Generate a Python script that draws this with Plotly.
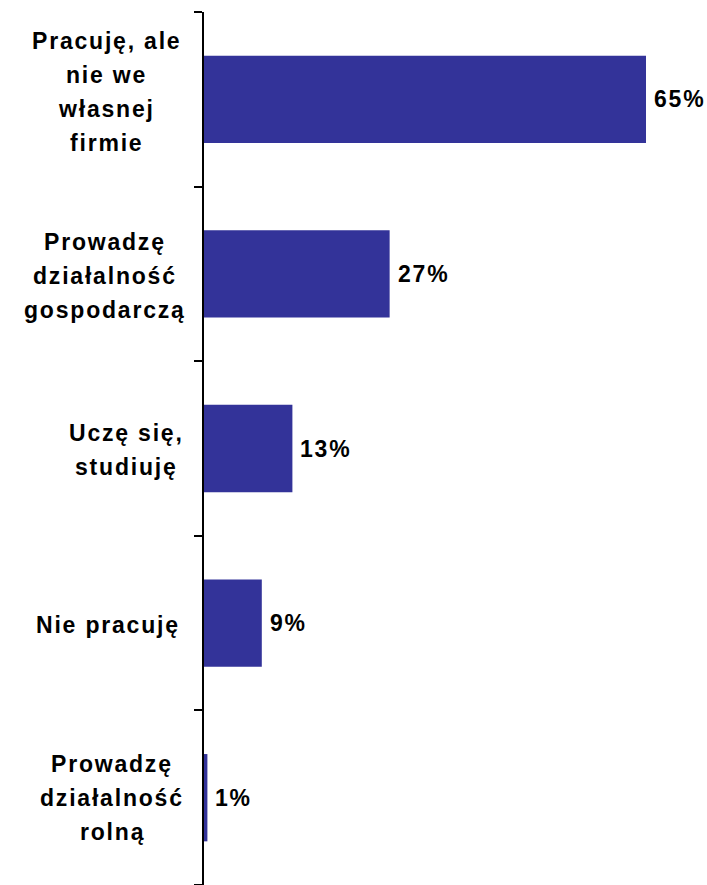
import plotly.graph_objects as go

# ---- data ----
category_lines = [
    ["Pracuję, ale", "nie we", "własnej", "firmie"],
    ["Prowadzę", "działalność", "gospodarczą"],
    ["Uczę się,", "studiuję"],
    ["Nie pracuję"],
    ["Prowadzę", "działalność", "rolną"],
]
values = [65, 27.3, 13, 8.5, 0.5]          # bar lengths
value_labels = ["65%", "27%", "13%", "9%", "1%"]

# ---- style / layout ----
W, H = 707, 885
ML, MR, MT, MB = 204, 27, 12, 0
XMAX = 70
plot_w = W - ML - MR
BAR_COLOR = "#333399"
FONT = "Liberation Sans, Arial, sans-serif"
FS = 23
LS = 1.8  # letter spacing px
LINE_STEP = 34
label_center_px = [106, 105, 126, 108, 112]
label_vadjust_px = [-7, 2, 1, 2, 0]  # positive = down

def spaced(t):
    return f'<span style="letter-spacing:{LS}px">{t}</span>'

ypos = list(range(len(values)))

fig = go.Figure(go.Bar(
    x=values, y=ypos, orientation="h",
    marker=dict(color=BAR_COLOR, line=dict(width=0)),
    hoverinfo="skip",
))

annotations = []
for i, lines in enumerate(category_lines):
    n = len(lines)
    cx = (label_center_px[i] - ML) / plot_w
    for j, line in enumerate(lines):
        off = (j - (n - 1) / 2) * LINE_STEP + label_vadjust_px[i]
        annotations.append(dict(
            x=cx, xref="paper", y=ypos[i], yref="y",
            text=spaced(line), showarrow=False,
            xanchor="center", yanchor="middle", yshift=-off,
            font=dict(family=FONT, size=FS, color="black", weight="bold"),
        ))
for i, (v, lab) in enumerate(zip(values, value_labels)):
    annotations.append(dict(
        x=v, xref="x", y=ypos[i], yref="y",
        text=spaced(lab), showarrow=False,
        xanchor="left", yanchor="middle", xshift=6,
        font=dict(family=FONT, size=FS, color="black", weight="bold"),
    ))

fig.update_layout(
    width=W, height=H,
    margin=dict(l=ML, r=MR, t=MT, b=MB, pad=0, autoexpand=False),
    paper_bgcolor="white", plot_bgcolor="white",
    bargap=0.5,
    showlegend=False,
    annotations=annotations,
    xaxis=dict(range=[0, XMAX], visible=False, showgrid=False, zeroline=False),
    yaxis=dict(
        range=[len(values) - 0.5, -0.5],
        showline=True, linecolor="black", linewidth=1.5,
        ticks="outside", ticklen=8, tickwidth=1.5, tickcolor="black",
        tickvals=[k - 0.5 for k in range(len(values) + 1)],
        showticklabels=False, showgrid=False, zeroline=False,
    ),
)

fig.write_html(
    "out.html",
    config={"displayModeBar": False},
    post_script="document.body.style.margin='0';document.body.style.overflow='hidden';",
)
